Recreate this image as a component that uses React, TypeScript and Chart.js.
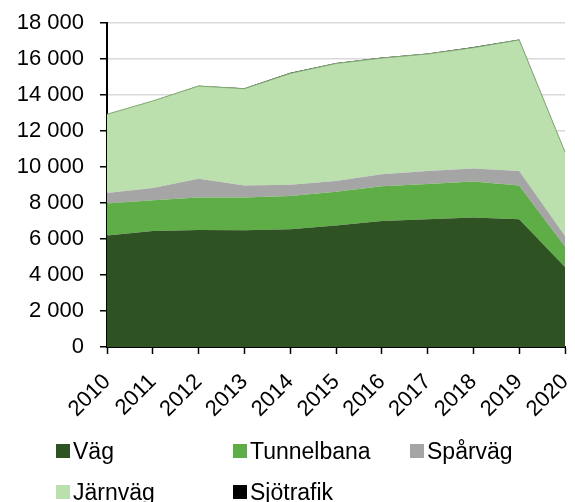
import React, { useEffect, useRef } from "react";
import { Chart, registerables } from "chart.js";

Chart.register(...registerables);

const years = ["2010", "2011", "2012", "2013", "2014", "2015", "2016", "2017", "2018", "2019", "2020"];
const vag = [6200, 6450, 6500, 6480, 6540, 6750, 7000, 7100, 7200, 7100, 4450];
const tunnelbana = [1770, 1700, 1800, 1820, 1850, 1880, 1930, 1960, 1990, 1870, 1140];
const sparvag = [590, 680, 1050, 670, 630, 590, 670, 720, 720, 810, 580];
const jarnvag = [4370, 4840, 5150, 5380, 6180, 6530, 6450, 6500, 6720, 7280, 4660];
const sjotrafik = [0, 0, 20, 30, 30, 30, 30, 30, 30, 30, 20];

const seriesNames = ["Väg", "Tunnelbana", "Spårväg", "Järnväg", "Sjötrafik"];
const seriesColors = ["#2F5222", "#5FAD46", "#A5A5A5", "#BBDFAD", "#000000"];
const seriesData = [vag, tunnelbana, sparvag, jarnvag, sjotrafik];

const FONT = "'Liberation Sans', Arial, sans-serif";

export default function App() {
  const ref = useRef<HTMLCanvasElement | null>(null);

  useEffect(() => {
    if (!ref.current) return;
    const chart = new Chart(ref.current, {
      type: "line",
      data: {
        labels: years,
        datasets: seriesData.map((d, i) => ({
          label: seriesNames[i],
          data: d,
          backgroundColor: seriesColors[i],
          borderColor: i === 3 ? "#7FA872" : seriesColors[i],
          borderWidth: i === 3 ? 1 : 0,
          pointRadius: 0,
          fill: i === 0 ? "origin" : "-1",
          tension: 0,
        })),
      },
      options: {
        animation: false,
        responsive: false,
        maintainAspectRatio: false,
        layout: { padding: { top: 23, right: 10, left: 0, bottom: 0 } },
        plugins: { legend: { display: false }, tooltip: { enabled: false } },
        scales: {
          x: {
            type: "category",
            offset: false,
            grid: { drawOnChartArea: false, tickLength: 7, tickColor: "#000", tickWidth: 1.5 },
            border: { color: "#000", width: 2 },
            ticks: {
              color: "#000",
              font: { family: FONT, size: 22 },
              minRotation: 45,
              maxRotation: 45,
              autoSkip: false,
              padding: 15,
            },
            afterFit: (s: any) => {
              s.height = 155;
              s.paddingLeft = 0;
              s.paddingRight = 0;
            },
          },
          y: {
            stacked: true,
            min: 0,
            max: 18000,
            grid: { color: "#D9D9D9", lineWidth: 1.5, tickLength: 7, tickColor: "#000", tickWidth: 1.5 },
            border: { color: "#000", width: 2 },
            ticks: {
              stepSize: 2000,
              color: "#000",
              font: { family: FONT, size: 22 },
              padding: 16,
              callback: (v: any) => {
                const n = Number(v);
                return n >= 1000 ? `${Math.floor(n / 1000)} ${String(n % 1000).padStart(3, "0")}` : String(n);
              },
            },
            afterFit: (s: any) => {
              s.width = 107;
              s.paddingTop = 0;
              s.paddingBottom = 0;
            },
          },
        },
      },
    });
    return () => chart.destroy();
  }, []);

  const legendPos = [
    { left: 56, top: 451 },
    { left: 233, top: 451 },
    { left: 410, top: 451 },
    { left: 56, top: 492 },
    { left: 233, top: 492 },
  ];

  return (
    <div style={{ position: "fixed", left: 0, top: 0, width: 575, height: 502, background: "#fff", overflow: "hidden" }}>
      <canvas ref={ref} width={575} height={502} style={{ position: "absolute", left: 0, top: 0, width: 575, height: 502 }} />
      {seriesNames.map((name, i) => (
        <div
          key={name}
          style={{
            position: "absolute",
            left: legendPos[i].left,
            top: legendPos[i].top - 15,
            height: 30,
            display: "flex",
            alignItems: "center",
            fontFamily: FONT,
            fontSize: 23,
            lineHeight: "30px",
            color: "#000",
            whiteSpace: "nowrap",
          }}
        >
          <span style={{ display: "inline-block", width: 14, height: 14, background: seriesColors[i], marginRight: 3 }} />
          <span>{name}</span>
        </div>
      ))}
    </div>
  );
}
